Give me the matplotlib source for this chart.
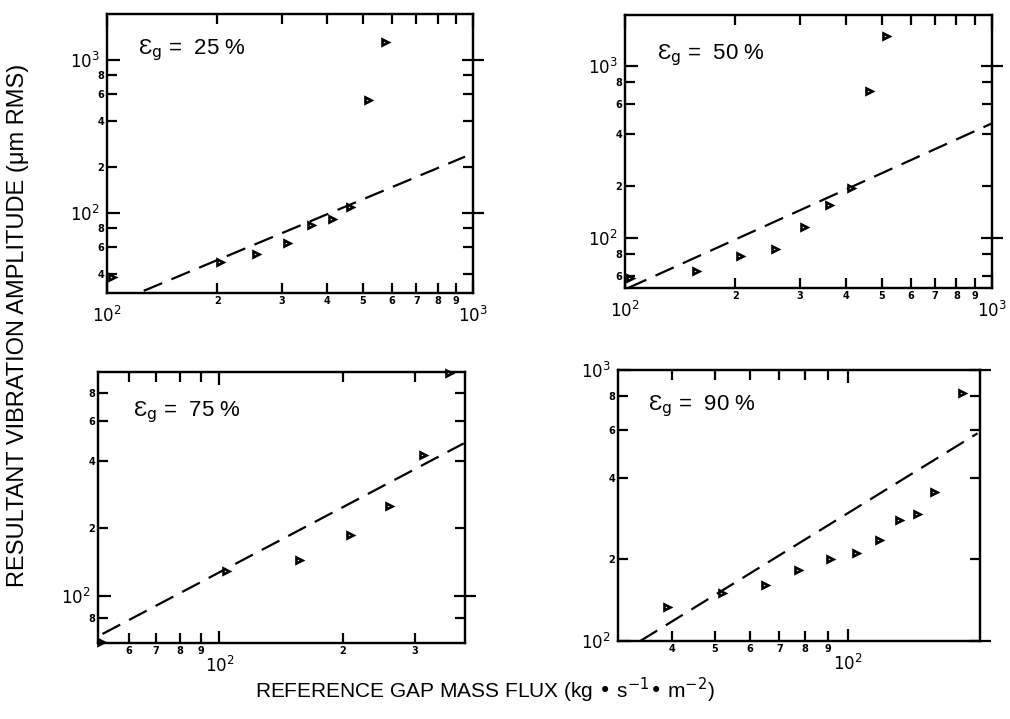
import numpy as np
import matplotlib
matplotlib.use("Agg")
import matplotlib.pyplot as plt
from matplotlib.ticker import LogLocator, FuncFormatter, LogFormatterSciNotation, NullFormatter

# ---------------- data ----------------
void_labels = ["25", "50", "75", "90"]

x25 = [103, 204, 256, 310, 362, 411, 461, 518, 575]
y25 = [38, 48, 54, 64, 84, 91, 109, 548, 1298]
fit25_x = [126, 951]
fit25_y = [31, 233]

x50 = [103, 156, 206, 257, 308, 359, 412, 462, 515]
y50 = [58, 64, 78, 86, 116, 155, 194, 716, 1488]
fit50_x = [102, 1000]
fit50_y = [51, 462]

x75 = [51.3, 104, 156, 208, 259, 314, 363]
y75 = [62.7, 130, 145, 187, 252, 424, 978]
fit75_x = [51.8, 395]
fit75_y = [68, 477]

x90 = [39, 52, 65, 77, 91, 104, 117, 130, 143, 156, 180]
y90 = [134, 150, 161, 183, 200, 211, 235, 279, 294, 356, 824]
fit90_x = [34, 195.5]
fit90_y = [100, 584]

xlims = [(100, 1000), (100, 1000), (50.5, 398), (30.3, 198)]
ylims = [(30, 1990), (51, 1970), (62, 990), (100, 1000)]

xlabel = "REFERENCE GAP MASS FLUX (kg \u2022 s$^{-1}$\u2022 m$^{-2}$)"
ylabel = "RESULTANT VIBRATION AMPLITUDE (\u03bcm RMS)"

# ---------------- figure ----------------
fig = plt.figure(figsize=(10.10, 7.19), dpi=100)
W, H = 1010, 719
boxes = [(107, 473, 14, 293), (625, 992, 15, 288), (98, 465, 372, 643), (618, 980, 370, 641)]
text_pos = [(0.085, 0.871), (0.086, 0.853), (0.095, 0.853), (0.084, 0.865)]

series = [(x25, y25, fit25_x, fit25_y), (x50, y50, fit50_x, fit50_y),
          (x75, y75, fit75_x, fit75_y), (x90, y90, fit90_x, fit90_y)]

def minor_fmt(v, pos):
    e = np.floor(np.log10(v) + 1e-9)
    return str(int(round(v / 10 ** e)))

LW = 1.6
for i, (l, r, t, b) in enumerate(boxes):
    ax = fig.add_axes([l / W, 1 - b / H, (r - l) / W, (b - t) / H])
    xs, ys, fx, fy = series[i]
    ax.set_xscale("log")
    ax.set_yscale("log")
    ax.plot(fx, fy, color="black", lw=1.6, dashes=(9, 4.5))
    ax.plot(xs, ys, linestyle="none", marker=">", ms=5, mfc="white",
            mec="black", mew=1.9, clip_on=False, zorder=5)
    ax.set_xlim(*xlims[i])
    ax.set_ylim(*ylims[i])

    ax.xaxis.set_major_locator(LogLocator(base=10, numticks=10))
    ax.xaxis.set_minor_locator(LogLocator(base=10, subs=(2, 3, 4, 5, 6, 7, 8, 9), numticks=10))
    ax.yaxis.set_major_locator(LogLocator(base=10, numticks=10))
    ax.yaxis.set_minor_locator(LogLocator(base=10, subs=(2, 4, 6, 8), numticks=10))
    ax.xaxis.set_major_formatter(LogFormatterSciNotation())
    ax.yaxis.set_major_formatter(LogFormatterSciNotation())
    ax.xaxis.set_minor_formatter(FuncFormatter(minor_fmt))
    ax.yaxis.set_minor_formatter(FuncFormatter(minor_fmt))

    for s in ax.spines.values():
        s.set_linewidth(LW)
    ax.tick_params(which="both", direction="in", top=True, right=False, width=LW)
    ax.tick_params(which="major", length=9, labelsize=12)
    ax.tick_params(axis="x", which="major", pad=9)
    ax.tick_params(axis="y", which="major", pad=5)
    ax.tick_params(which="minor", length=7, labelsize=7, pad=2)
    for lab in ax.get_xminorticklabels() + ax.get_yminorticklabels():
        lab.set_fontweight("bold")

    tw = ax.twinx()
    tw.set_yscale("log")
    tw.set_ylim(*ylims[i])
    tw.yaxis.set_major_locator(LogLocator(base=10, numticks=10))
    tw.yaxis.set_minor_locator(LogLocator(base=10, subs=(2, 4, 6, 8), numticks=10))
    tw.yaxis.set_major_formatter(NullFormatter())
    tw.yaxis.set_minor_formatter(NullFormatter())
    tw.tick_params(which="major", direction="inout", length=16, width=LW)
    tw.tick_params(which="minor", direction="in", length=7, width=LW)
    for s in tw.spines.values():
        s.set_linewidth(LW)

    ax.text(text_pos[i][0], text_pos[i][1],
            "\u0190$_{\\mathrm{g}}$ =  " + void_labels[i] + " %",
            transform=ax.transAxes, fontsize=16, va="center", ha="left",
            family="Liberation Sans")

fig.text(18 / W, 1 - 325 / H, ylabel, rotation=90, fontsize=17,
         family="Liberation Sans", ha="center", va="center")
fig.text(485 / W, 1 - 690 / H, xlabel, fontsize=15,
         family="Liberation Sans", ha="center", va="center")

fig.savefig("out.png", dpi=100)
